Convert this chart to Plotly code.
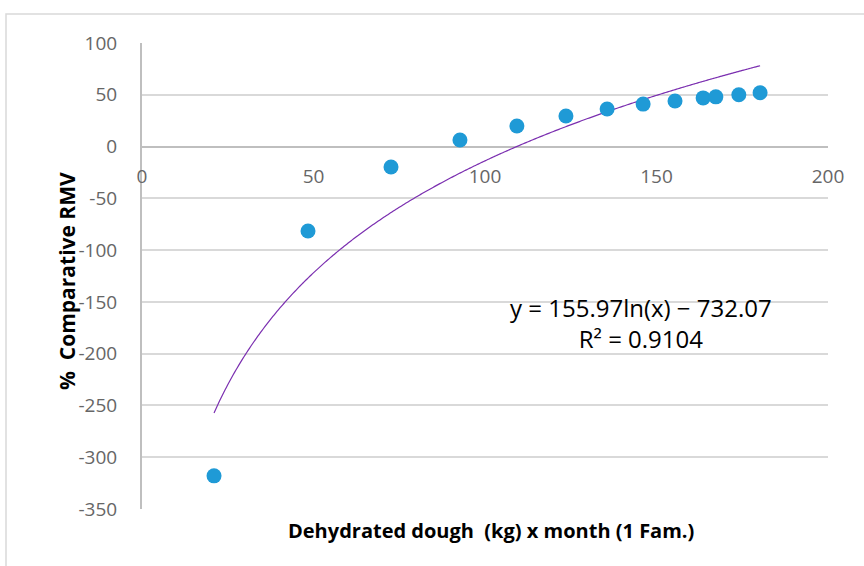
import numpy as np
import plotly.graph_objects as go

# Data
dough_kg = [21.0, 48.4, 72.6, 92.7, 109.3, 123.6, 135.6, 146.1, 155.4, 163.6, 167.3, 174.0, 180.2]
rmv_pct = [-318, -81.5, -19.7, 6.4, 19.9, 29.5, 36.3, 41.0, 44.0, 47.0, 48.0, 50.0, 52.0]

# Logarithmic trendline coefficients shown on the chart
fit_a = 155.97
fit_b = -732.07
fit_r2 = 0.9104

x_ticks = [0, 50, 100, 150, 200]
x_ticklabels = ["0", "50", "100", "150", "200"]
y_ticks = [100, 50, 0, -50, -100, -150, -200, -250, -300, -350]
y_ticklabels = ["100", "50", "0", "-50", "-100", "-150", "-200", "-250", "-300", "-350"]

tx = np.linspace(min(dough_kg), max(dough_kg), 400)
ty = fit_a * np.log(tx) + fit_b

fig = go.Figure()
fig.add_trace(go.Scatter(x=tx, y=ty, mode="lines",
                         line=dict(color="#7B2FB0", width=1.2, simplify=False),
                         hoverinfo="skip"))
fig.add_trace(go.Scatter(x=dough_kg, y=rmv_pct, mode="markers",
                         marker=dict(color="#1F9AD6", size=15)))

W, H = 864, 566
L, R, T, B = 142, 36, 43, 57
pw = W - L - R
ph = H - T - B
zero_pos = (0 - (-350)) / 450.0

FONT = "Open Sans, Noto Sans, sans-serif"
tickfont = dict(family=FONT, size=19, color="#666666")

fig.update_layout(
    width=W, height=H,
    margin=dict(l=L, r=R, t=T, b=B, autoexpand=False),
    paper_bgcolor="white", plot_bgcolor="white",
    showlegend=False,
    xaxis=dict(range=[0, 200], tickvals=x_ticks, ticktext=x_ticklabels,
               showgrid=False, zeroline=False, automargin=False,
               showline=False, anchor="free", position=zero_pos,
               ticks="", tickfont=tickfont, ticklabelstandoff=16),
    yaxis=dict(range=[-350, 100], tickvals=y_ticks, ticktext=y_ticklabels,
               showgrid=True, automargin=False,
               gridcolor="#D9D9D9", gridwidth=1.5, zeroline=True,
               zerolinecolor="#BFBFBF", zerolinewidth=2,
               showline=True, linecolor="#BFBFBF", linewidth=2,
               ticks="", tickfont=tickfont, ticklabelstandoff=19),
)

# y-axis title
fig.add_annotation(text="<b>%  Comparative RMV</b>", textangle=-90,
                   xref="paper", yref="paper", x=(67 - L) / pw, y=(H - B - 281) / ph,
                   xanchor="center", yanchor="middle", showarrow=False,
                   font=dict(family=FONT, size=21, color="black"))

# x-axis title
fig.add_annotation(text="<b>Dehydrated dough  (kg) x month (1 Fam.)</b>",
                   xref="paper", yref="paper", x=(491 - L) / pw, y=(H - B - 530) / ph,
                   xanchor="center", yanchor="middle", showarrow=False,
                   font=dict(family=FONT, size=20, color="black"))

# trendline equation
fig.add_annotation(text="y = %.2fln(x) \u2212 %.2f<br>R\u00b2 = %.4f" % (fit_a, -fit_b, fit_r2),
                   xref="paper", yref="paper", x=(641 - L) / pw, y=(H - B - 323) / ph,
                   xanchor="center", yanchor="middle", showarrow=False, align="center",
                   font=dict(family=FONT, size=24, color="black"))

# outer chart border
fig.add_shape(type="rect", xref="paper", yref="paper",
              x0=-(L - 6) / pw, x1=1 + (R + 10) / pw,
              y0=-(B + 10) / ph, y1=1 + (T - 14) / ph,
              line=dict(color="#D9D9D9", width=1.5), fillcolor="rgba(0,0,0,0)")

fig.write_html("out.html", config={"displayModeBar": False},
               post_script="document.body.style.margin='0';document.body.style.overflow='hidden';")
